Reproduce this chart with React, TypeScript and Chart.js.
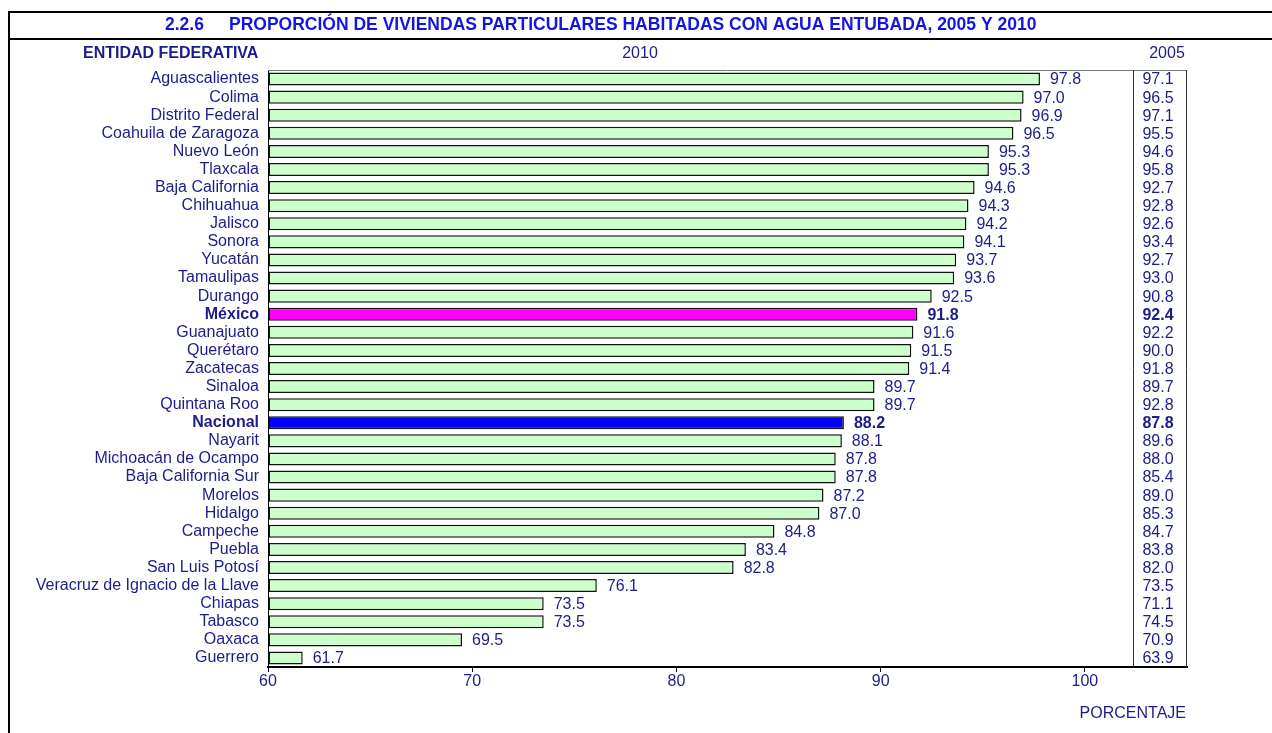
import React, { useEffect, useRef } from "react";
import { Chart, registerables } from "chart.js";

Chart.register(...registerables);

const categories = [
  "Aguascalientes", "Colima", "Distrito Federal", "Coahuila de Zaragoza", "Nuevo León",
  "Tlaxcala", "Baja California", "Chihuahua", "Jalisco", "Sonora", "Yucatán", "Tamaulipas",
  "Durango", "México", "Guanajuato", "Querétaro", "Zacatecas", "Sinaloa", "Quintana Roo",
  "Nacional", "Nayarit", "Michoacán de Ocampo", "Baja California Sur", "Morelos", "Hidalgo",
  "Campeche", "Puebla", "San Luis Potosí", "Veracruz de Ignacio de la Llave", "Chiapas",
  "Tabasco", "Oaxaca", "Guerrero",
];

const values2010 = [
  97.8, 97.0, 96.9, 96.5, 95.3, 95.3, 94.6, 94.3, 94.2, 94.1, 93.7, 93.6, 92.5, 91.8, 91.6,
  91.5, 91.4, 89.7, 89.7, 88.2, 88.1, 87.8, 87.8, 87.2, 87.0, 84.8, 83.4, 82.8, 76.1, 73.5,
  73.5, 69.5, 61.7,
];

const values2005 = [
  97.1, 96.5, 97.1, 95.5, 94.6, 95.8, 92.7, 92.8, 92.6, 93.4, 92.7, 93.0, 90.8, 92.4, 92.2,
  90.0, 91.8, 89.7, 92.8, 87.8, 89.6, 88.0, 85.4, 89.0, 85.3, 84.7, 83.8, 82.0, 73.5, 71.1,
  74.5, 70.9, 63.9,
];

const xTicks = [60, 70, 80, 90, 100];

const highlight: Record<string, string> = { "México": "#FF00FF", "Nacional": "#0000FF" };
const NAVY = "#1c1c8a";
const TITLE_BLUE = "#1414e0";
const FONT = "'Liberation Sans', Arial, sans-serif";

const isBold = (i: number) => highlight[categories[i]] !== undefined;

const overlayPlugin = {
  id: "overlay",
  afterDraw(chart: any) {
    const ctx = chart.ctx as CanvasRenderingContext2D;
    const area = chart.chartArea;
    ctx.save();
    // frame
    ctx.strokeStyle = "#000";
    ctx.lineWidth = 2;
    ctx.beginPath();
    ctx.moveTo(9, 12);
    ctx.lineTo(1272, 12);
    ctx.moveTo(9, 39);
    ctx.lineTo(1272, 39);
    ctx.moveTo(9, 11);
    ctx.lineTo(9, 733);
    ctx.stroke();

    // title
    ctx.fillStyle = TITLE_BLUE;
    ctx.font = `bold 17.5px ${FONT}`;
    ctx.textBaseline = "middle";
    ctx.textAlign = "left";
    ctx.fillText("2.2.6", 165, 25);
    ctx.fillText("PROPORCIÓN DE VIVIENDAS PARTICULARES HABITADAS CON AGUA ENTUBADA, 2005 Y 2010", 229, 25);

    ctx.fillStyle = NAVY;
    ctx.font = `bold 16px ${FONT}`;
    ctx.fillText("ENTIDAD FEDERATIVA", 83, 54);
    ctx.font = `16px ${FONT}`;
    ctx.textAlign = "center";
    ctx.fillText("2010", 640, 54);
    ctx.fillText("2005", 1167, 54);
    ctx.textAlign = "right";
    ctx.fillText("PORCENTAJE", 1186, 714);

    // plot top line and 2005 box
    const boxL = 1133;
    const boxR = area.right;
    ctx.strokeStyle = "#777";
    ctx.lineWidth = 1;
    ctx.beginPath();
    ctx.moveTo(area.left, area.top + 0.5);
    ctx.lineTo(area.right, area.top + 0.5);
    ctx.stroke();
    ctx.strokeStyle = "#333";
    ctx.beginPath();
    ctx.moveTo(boxL + 0.5, area.top);
    ctx.lineTo(boxL + 0.5, area.bottom);
    ctx.moveTo(boxR - 0.5, area.top);
    ctx.lineTo(boxR - 0.5, area.bottom);
    ctx.stroke();

    // value labels
    const meta = chart.getDatasetMeta(0);
    meta.data.forEach((bar: any, i: number) => {
      ctx.fillStyle = NAVY;
      ctx.font = `${isBold(i) ? "bold " : ""}16px ${FONT}`;
      ctx.textAlign = "left";
      ctx.fillText(values2010[i].toFixed(1), bar.x + 10, bar.y + 1);
      ctx.textAlign = "center";
      ctx.fillText(values2005[i].toFixed(1), 1158, bar.y + 1);
    });
    ctx.restore();
  },
};

export default function App() {
  const ref = useRef<HTMLCanvasElement>(null);
  useEffect(() => {
    if (!ref.current) return;
    const chart = new Chart(ref.current, {
      type: "bar",
      data: {
        labels: categories,
        datasets: [
          {
            data: values2010,
            base: 60,
            backgroundColor: categories.map((c) => highlight[c] ?? "#CCFFCC"),
            borderColor: "#111",
            borderWidth: 1.5,
            borderSkipped: false,
            categoryPercentage: 1,
            barPercentage: 0.72,
          } as any,
        ],
      },
      options: {
        indexAxis: "y",
        animation: false,
        responsive: false,
        devicePixelRatio: 1,
        layout: { padding: { top: 70, right: 85, bottom: 0, left: 0 } },
        plugins: { legend: { display: false }, tooltip: { enabled: false }, title: { display: false } },
        scales: {
          x: {
            type: "linear",
            min: 60,
            max: 105,
            afterBuildTicks: (scale: any) => {
              scale.ticks = xTicks.map((v) => ({ value: v }));
            },
            afterFit: (scale: any) => {
              scale.height = 66;
            },
            grid: { display: true, drawOnChartArea: false, drawTicks: true, tickLength: 5, color: "#000" },
            border: { display: true, color: "#000", width: 2 },
            ticks: { color: NAVY, font: { family: FONT, size: 16 }, padding: 0, maxRotation: 0 },
          },
          y: {
            afterFit: (scale: any) => {
              scale.width = 268;
            },
            grid: { display: false, drawTicks: false },
            border: { display: true, color: "#000", width: 1 },
            ticks: {
              color: NAVY,
              padding: 9,
              autoSkip: false,
              font: (ctx: any) => ({ family: FONT, size: 16, weight: isBold(ctx.index) ? "bold" : "normal" }),
            },
          },
        },
      },
      plugins: [overlayPlugin],
    });
    return () => chart.destroy();
  }, []);
  return (
    <div style={{ position: "absolute", left: 0, top: 0, width: 1272, height: 733, background: "#fff" }}>
      <canvas ref={ref} width={1272} height={733} style={{ display: "block", width: 1272, height: 733 }} />
    </div>
  );
}
